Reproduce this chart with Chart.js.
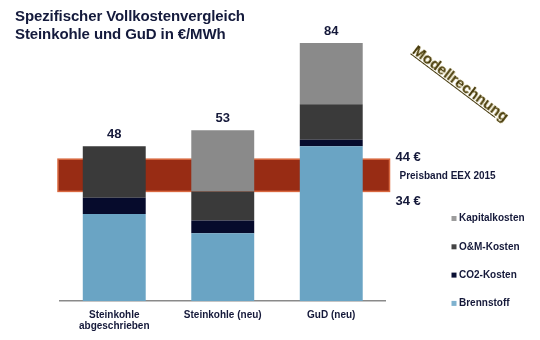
<!DOCTYPE html>
<html>
<head>
<meta charset="utf-8">
<script src="https://cdn.jsdelivr.net/npm/chart.js@4/dist/chart.umd.min.js"></script>
<style>
  body { margin: 0; background: #fff; }
  #wrap { position: relative; width: 540px; height: 340px; overflow: hidden; }
  #title {
    position: absolute; left: 15px; top: 7px;
    font: bold 15px "Liberation Sans", Arial, sans-serif; line-height: 17.5px;
    color: #141a3c; letter-spacing: -0.1px;
  }
  #stamp {
    position: absolute; left: 461px; top: 83px;
    transform: translate(-50%, -50%) rotate(37deg);
    font: bold 15px "Liberation Sans", Arial, sans-serif;
    color: #45390c; text-decoration: underline; white-space: nowrap;
    text-shadow: 0 0 1px #efdc82;
  }
</style>
</head>
<body>
<div id="wrap">
  <canvas id="chart" width="540" height="340"></canvas>
  <div id="title">Spezifischer Vollkostenvergleich<br>Steinkohle und GuD in €/MWh</div>
  <div id="stamp">Modellrechnung</div>
</div>
<script>
// Data (€/MWh)
const categories = [['Steinkohle', 'abgeschrieben'], 'Steinkohle (neu)', 'GuD (neu)'];
const brennstoff = [27, 21, 48];
const co2Kosten = [5, 4, 2];
const omKosten = [16, 9, 11];
const kapitalkosten = [0, 19, 19];
const totals = [48, 53, 84];
const priceBand = [34, 44];

const labelColor = '#15193a';
const font = '"Liberation Sans", Arial, sans-serif';

// Price band behind the bars, value labels on top, band text and legend
const extras = {
    id: 'extras',
    beforeDatasetsDraw(chart) {
        const { ctx, chartArea, scales } = chart;
        const yTop = scales.y.getPixelForValue(priceBand[1]);
        const yBot = scales.y.getPixelForValue(priceBand[0]);
        ctx.save();
        ctx.fillStyle = '#982c14';
        ctx.strokeStyle = '#d9683f';
        ctx.lineWidth = 1.5;
        ctx.fillRect(chartArea.left - 2, yTop, chartArea.right - chartArea.left + 6, yBot - yTop);
        ctx.strokeRect(chartArea.left - 2, yTop, chartArea.right - chartArea.left + 6, yBot - yTop);
        ctx.restore();
    },
    afterDatasetsDraw(chart) {
        const { ctx, chartArea, scales } = chart;
        ctx.save();
        ctx.fillStyle = labelColor;
        ctx.textAlign = 'center';
        ctx.textBaseline = 'middle';
        ctx.font = 'bold 13px ' + font;
        totals.forEach((t, i) => {
            let top = 0;
            chart.data.datasets.forEach(ds => { top += ds.data[i]; });
            const x = scales.x.getPixelForValue(i);
            const y = scales.y.getPixelForValue(top);
            ctx.fillText(String(t), x, y - 12);
        });

        // band labels
        const yTop = scales.y.getPixelForValue(priceBand[1]);
        const yBot = scales.y.getPixelForValue(priceBand[0]);
        const bx = chartArea.right + 10;
        ctx.textAlign = 'left';
        ctx.font = 'bold 13px ' + font;
        ctx.fillText(priceBand[1] + ' €', bx, yTop - 2);
        ctx.fillText(priceBand[0] + ' €', bx, yBot + 10);
        ctx.font = 'bold 10px ' + font;
        ctx.fillText('Preisband EEX 2015', bx + 4, (yTop + yBot) / 2 + 1);

        // legend, top entry is the last dataset
        const items = chart.data.datasets.slice().reverse();
        ctx.font = 'bold 10px ' + font;
        items.forEach((ds, k) => {
            const y = 218.5 + k * 28.3;
            ctx.fillStyle = ds.legendColor;
            ctx.fillRect(451.5, y - 2.5, 5, 5);
            ctx.fillStyle = labelColor;
            ctx.fillText(ds.label, 459, y);
        });
        ctx.restore();
    }
};

new Chart(document.getElementById('chart'), {
    type: 'bar',
    data: {
        labels: categories,
        datasets: [
            { label: 'Brennstoff', data: brennstoff, backgroundColor: '#6aa4c4', legendColor: '#7fb2cf' },
            { label: 'CO2-Kosten', data: co2Kosten, backgroundColor: '#060b2c', legendColor: '#0a1034' },
            { label: 'O&M-Kosten', data: omKosten, backgroundColor: '#3a3a3a', legendColor: '#444444' },
            { label: 'Kapitalkosten', data: kapitalkosten, backgroundColor: '#8a8a8a', legendColor: '#9c9c9c' }
        ]
    },
    options: {
        responsive: false,
        animation: false,
        layout: { padding: { left: 60, right: 154.5, top: 27, bottom: 0 } },
        datasets: { bar: { categoryPercentage: 0.58, barPercentage: 1, borderWidth: 0 } },
        scales: {
            x: {
                stacked: true,
                grid: { display: false, drawTicks: false },
                border: { display: true, color: '#8a8a8a', width: 1.5 },
                ticks: { color: labelColor, font: { family: font, size: 10, weight: 'bold', lineHeight: 1.1 }, padding: 9, maxRotation: 0 },
                afterFit(axis) { axis.height = 39; }
            },
            y: { stacked: true, display: false, min: 0, max: 85 }
        },
        plugins: { legend: { display: false }, tooltip: { enabled: false } }
    },
    plugins: [extras]
});
</script>
</body>
</html>
